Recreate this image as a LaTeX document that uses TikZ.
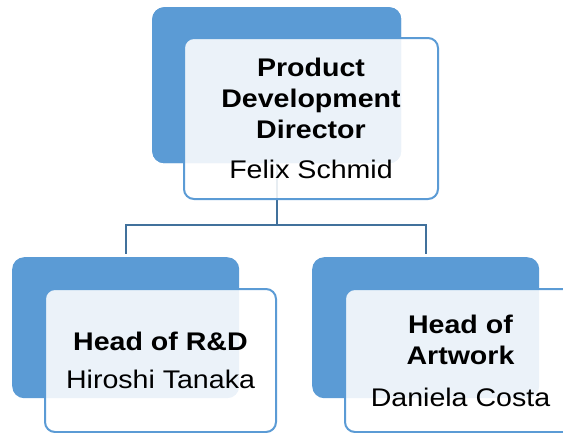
\documentclass[tikz,border=0pt]{standalone}
\usepackage{fontspec}
\setmainfont[FakeStretch=1.12]{Liberation Sans}
\definecolor{backblue}{HTML}{5B9BD5}
\definecolor{edgeblue}{HTML}{5B9BD5}
\definecolor{linkblue}{HTML}{41719C}
\begin{document}
\begin{tikzpicture}[x=1pt,y=-1pt,
  backbox/.style={anchor=north west, fill=backblue, draw=none, rounded corners=12pt, inner sep=0pt},
  frontbox/.style={anchor=north west, fill=white, fill opacity=0.88, text opacity=1, draw=edgeblue, line width=2pt, rounded corners=10pt, inner sep=0pt, align=center, font=\fontsize{25.5}{31}\selectfont},
  link/.style={draw=linkblue, line width=2.2pt}]
\useasboundingbox (0,0) rectangle (563,432);
\begin{scope}
\clip (0,0) rectangle (563,432);
% back panels
\node[backbox, minimum width=249pt, minimum height=156pt] (b1) at (152,7) {};
\node[backbox, minimum width=227pt, minimum height=141pt] (b2) at (12,257) {};
\node[backbox, minimum width=227pt, minimum height=141pt] (b3) at (312,257) {};
% connectors
\coordinate (j) at (b1.south |- 0,225);
\draw[link, shorten >=3pt] (b1.center) -- (j) -| (b2.north);
\draw[link, shorten >=3pt] (j) -| (b3.north);
% redraw the top back panel over the connector stem
\node[backbox, minimum width=249pt, minimum height=156pt] at (152,7) {};
% front cards
\node[frontbox, minimum width=254pt, minimum height=161pt] (f1) at (183,37)
  {\textbf{Product}\\\textbf{Development}\\\textbf{Director}\\[9pt]Felix Schmid};
\node[frontbox, minimum width=231pt, minimum height=143pt] (f2) at (44,288)
  {\textbf{Head of R\&D}\\[7pt]Hiroshi Tanaka};
\node[frontbox, minimum width=231pt, minimum height=143pt] (f3) at (344,288)
  {\textbf{Head of}\\\textbf{Artwork}\\[11pt]Daniela Costa};
\end{scope}
\end{tikzpicture}
\end{document}
